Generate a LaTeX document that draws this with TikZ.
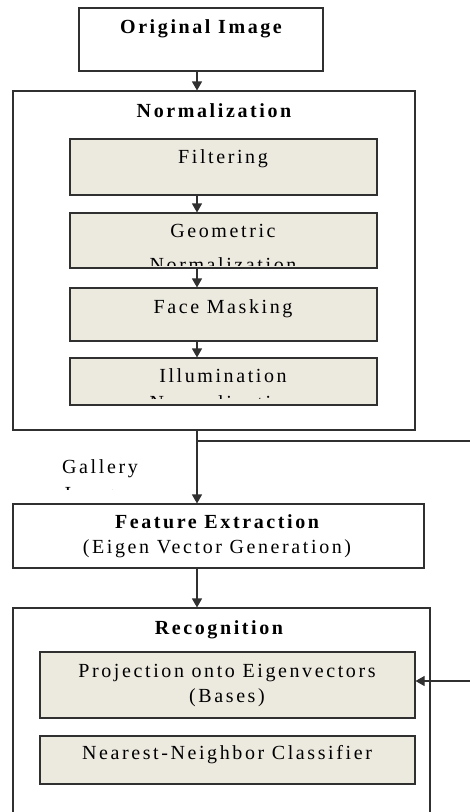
\documentclass[tikz,border=0pt]{standalone}
\usepackage{fontspec}
\setmainfont[LetterSpace=13]{Liberation Serif}
\usetikzlibrary{arrows.meta}
\definecolor{linecol}{HTML}{303030}
\definecolor{beige}{HTML}{ECE9DF}
\tikzset{
  boxo/.style={draw=linecol, line width=1.1pt, rectangle, inner sep=0pt, fill=white},
  boxi/.style={draw=linecol, line width=1.1pt, rectangle, inner sep=0pt, fill=beige},
  lbl/.style={anchor=base, inner sep=0pt, font=\fontsize{20}{23}\selectfont, text=black},
  blbl/.style={lbl, font=\fontsize{20}{23}\selectfont\bfseries},
  conn/.style={draw=linecol, line width=1.1pt},
  arr/.style={conn, -{Triangle[width=10pt,length=9pt]}}
}
\begin{document}
\begin{tikzpicture}[x=1pt,y=-1pt]
\clip (0,0) rectangle (470,812);
\fill[white] (0,0) rectangle (470,812);
\coordinate (ax) at (197,0);
% boxes
\node[boxo, minimum width=244pt, minimum height=63pt] (orig) at (201,39.5) {};
\node[boxo, minimum width=402pt, minimum height=339pt] (norm) at (214,260.5) {};
\node[boxi, minimum width=307pt, minimum height=56pt] (filt) at (223.5,167) {};
\node[boxi, minimum width=307pt, minimum height=55pt] (geom) at (223.5,240.5) {};
\node[boxi, minimum width=307pt, minimum height=53pt] (mask) at (223.5,314.5) {};
\node[boxi, minimum width=307pt, minimum height=47pt] (illu) at (223.5,381.5) {};
\node[boxo, minimum width=411pt, minimum height=64pt] (feat) at (218.5,536) {};
\node[boxo, minimum width=417pt, minimum height=222pt] (reco) at (221.5,719) {};
\node[boxi, minimum width=375pt, minimum height=66pt] (proj) at (227.5,685) {};
\node[boxi, minimum width=375pt, minimum height=48pt] (near) at (227.5,760) {};
% labels
\node[blbl] (torig) at (201,33) {Original Image};
\node[blbl] (tnorm) at (214,117) {Normalization};
\node[lbl] (tfilt) at (223,163) {Filtering};
\node[lbl] (tgeom) at (223,237) {Geometric};
\begin{scope}
  \clip (geom.north west) rectangle (377,265);
  \node[lbl] (tgeom2) at (223,271) {Normalization};
\end{scope}
\node[lbl] (tmask) at (223,313) {Face Masking};
\node[lbl] (tillu) at (223,382) {Illumination};
\begin{scope}
  \clip (illu.north west) rectangle (377,398.5);
  \node[lbl] (tillu2) at (223,409) {Normalization};
\end{scope}
\node[lbl] (tgal) at (100,473) {Gallery};
\begin{scope}
  \clip (40,480) rectangle (180,489);
  \node[lbl] (tgal2) at (100,500) {Images};
\end{scope}
\node[blbl] (tfeat) at (217,528) {Feature Extraction};
\node[lbl] (tfeat2) at (217,553) {(Eigen Vector Generation)};
\node[blbl] (treco) at (219,634) {Recognition};
\node[lbl] (tproj) at (227,677) {Projection onto Eigenvectors};
\node[lbl] (tproj2) at (227,702) {(Bases)};
\node[lbl] (tnear) at (227,759) {Nearest-Neighbor Classifier};
% connectors
\draw[arr] (orig.south -| ax) -- (norm.north -| ax);
\draw[arr] (filt.south -| ax) -- (geom.north -| ax);
\draw[arr] (geom.south -| ax) -- (mask.north -| ax);
\draw[arr] (mask.south -| ax) -- (illu.north -| ax);
\draw[arr] (norm.south -| ax) -- (feat.north -| ax);
\draw[arr] (feat.south -| ax) -- (reco.north -| ax);
\coordinate (j) at (197,441);
\coordinate (r1) at (470,441);
\coordinate (r2) at (470,681);
\draw[conn] (j) -- (r1);
\draw[arr] (r2) -- (r2 -| proj.east);
\end{tikzpicture}
\end{document}
